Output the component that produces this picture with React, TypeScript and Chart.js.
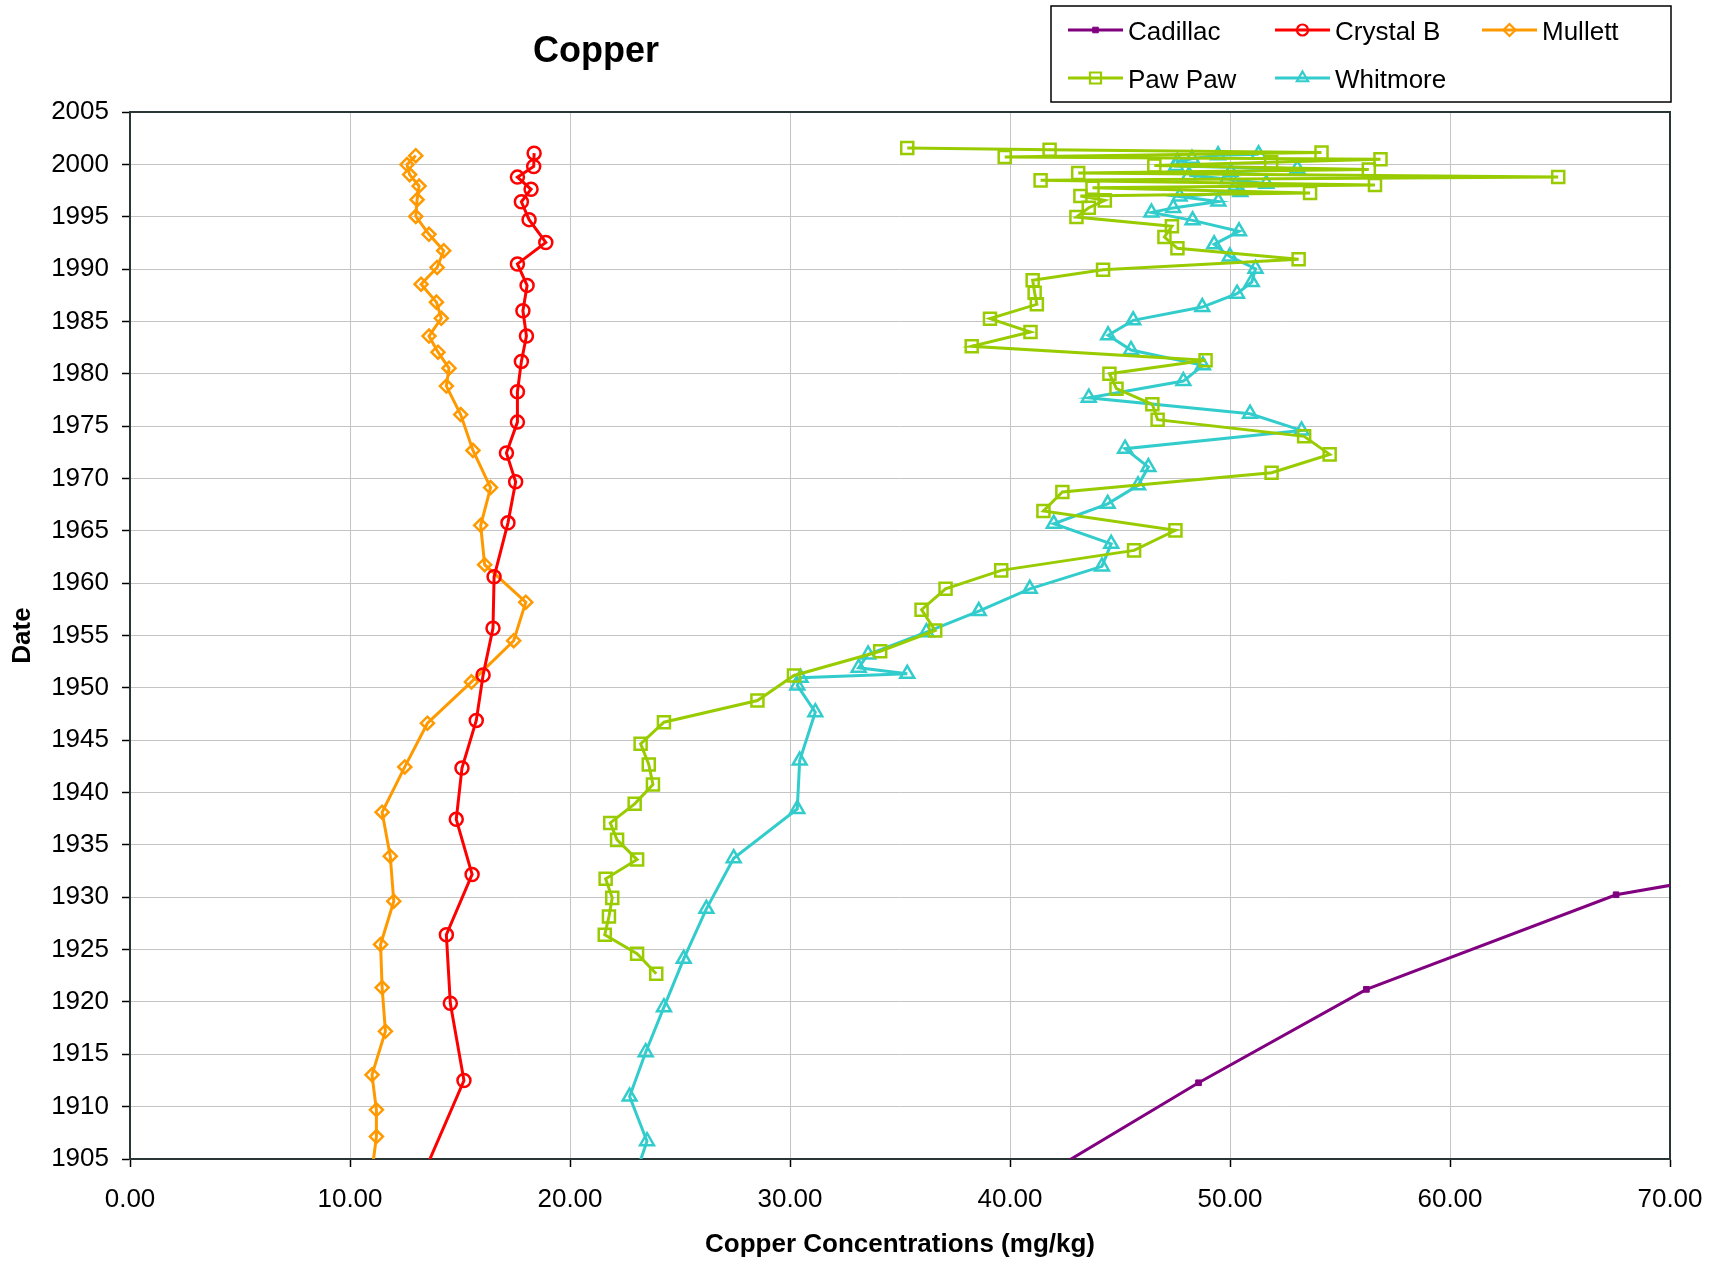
import React, { useEffect, useRef } from 'react';
import { Chart, registerables } from 'chart.js';

Chart.register(...registerables);

const FONT = "'Liberation Sans', Arial, Helvetica, sans-serif";

// ---- text ----
const chartTitle = 'Copper';
const xAxisTitle = 'Copper Concentrations (mg/kg)';
const yAxisTitle = 'Date';

// ---- axes ----
const xMin = 0;
const xMax = 70;
const xStep = 10;
const yMin = 1905;
const yMax = 2005;
const yStep = 5;

// ---- series ----
const seriesNames = ['Cadillac', 'Crystal B', 'Mullett', 'Paw Paw', 'Whitmore'];
const seriesColors = ['#800080', '#FF0000', '#FF9900', '#99CC00', '#33CCCC'];

// Cadillac (first and last points lie outside the plotted window)
const cadillacYears = [1936.6, 1930.24, 1921.2, 1912.28, 1900.0];
const cadillacCu = [85.0, 67.55, 56.2, 48.57, 38.8];

// Crystal B
const crystalYears = [
  2001.07, 1999.8, 1998.78, 1997.62, 1996.43, 1994.72, 1992.54, 1990.49, 1988.44, 1986.02,
  1983.6, 1981.18, 1978.28, 1975.38, 1972.44, 1969.68, 1965.76, 1960.61, 1955.7, 1951.22,
  1946.89, 1942.35, 1937.44, 1932.18, 1926.42, 1919.87, 1912.5, 1899.5,
];
const crystalCu = [
  18.37, 18.35, 17.61, 18.23, 17.79, 18.14, 18.9, 17.61, 18.05, 17.86,
  18.02, 17.79, 17.61, 17.61, 17.11, 17.53, 17.18, 16.55, 16.5, 16.05,
  15.74, 15.09, 14.83, 15.55, 14.38, 14.56, 15.18, 12.5,
];

// Mullett
const mullettYears = [
  2000.83, 1999.98, 1999.02, 1997.93, 1996.63, 1995.03, 1993.32, 1991.75, 1990.15, 1988.55,
  1986.84, 1985.3, 1983.6, 1982.06, 1980.53, 1978.82, 1976.1, 1972.68, 1969.13, 1965.52,
  1961.76, 1958.18, 1954.5, 1950.57, 1946.62, 1942.45, 1938.12, 1933.92, 1929.62, 1925.49,
  1921.37, 1917.2, 1913.04, 1909.7, 1907.14, 1903.0,
];
const mullettCu = [
  12.99, 12.59, 12.71, 13.14, 13.05, 12.99, 13.59, 14.26, 13.96, 13.23,
  13.93, 14.15, 13.59, 14.0, 14.5, 14.38, 15.03, 15.59, 16.39, 15.94,
  16.12, 17.99, 17.44, 15.52, 13.52, 12.49, 11.46, 11.83, 11.99, 11.39,
  11.46, 11.61, 11.0, 11.2, 11.2, 10.95,
];

// Paw Paw
const pawpawYears = [
  2001.56, 2001.4, 2001.12, 2000.7, 2000.48, 2000.2, 1999.88, 1999.5, 1999.18, 1998.79,
  1998.47, 1998.03, 1997.77, 1997.26, 1996.98, 1996.56, 1995.86, 1994.97, 1994.08, 1993.06,
  1991.98, 1990.93, 1989.94, 1988.92, 1987.74, 1986.63, 1985.26, 1983.98, 1982.62, 1981.28,
  1980.0, 1978.57, 1977.08, 1975.61, 1974.02, 1972.3, 1970.55, 1968.7, 1966.89, 1965.04,
  1963.13, 1961.22, 1959.46, 1957.46, 1955.48, 1953.5, 1951.18, 1948.79, 1946.72, 1944.65,
  1942.68, 1940.77, 1938.92, 1937.1, 1935.48, 1933.6, 1931.76, 1929.94, 1928.16, 1926.41,
  1924.6, 1922.7,
];
const pawpawCu = [
  35.33, 41.8, 54.16, 39.76, 56.84, 51.87, 46.56, 56.31, 43.1, 64.92,
  41.39, 56.59, 43.75, 53.64, 43.2, 44.31, 43.58, 43.02, 47.36, 47.02,
  47.61, 53.12, 44.23, 41.03, 41.12, 41.22, 39.09, 40.93, 38.26, 48.89,
  44.52, 44.84, 46.47, 46.71, 53.37, 54.53, 51.89, 42.38, 41.52, 47.52,
  45.64, 39.6, 37.07, 35.98, 36.6, 34.1, 30.18, 28.52, 24.27, 23.21,
  23.58, 23.77, 22.94, 21.83, 22.14, 23.05, 21.62, 21.92, 21.77, 21.58,
  23.05, 23.92,
];

// Whitmore
const whitmoreYears = [
  2000.96, 2000.86, 2000.54, 2000.25, 1999.85, 1999.59, 1999.27, 1998.95, 1998.6, 1998.15,
  1997.95, 1997.36, 1996.92, 1996.45, 1995.84, 1995.4, 1994.65, 1993.6, 1992.36, 1991.21,
  1990.03, 1988.76, 1987.65, 1986.37, 1985.1, 1983.67, 1982.27, 1980.8, 1979.3, 1977.71,
  1976.18, 1974.59, 1972.84, 1971.09, 1969.34, 1967.58, 1965.67, 1963.76, 1961.6, 1959.46,
  1957.33, 1955.32, 1953.19, 1951.92, 1951.34, 1950.96, 1950.23, 1947.68, 1943.06, 1938.44,
  1933.73, 1928.89, 1924.12, 1919.5, 1915.2, 1910.96, 1906.7, 1903.0,
];
const whitmoreCu = [
  51.3, 49.46, 48.27, 47.61, 47.55, 53.06, 50.03, 48.14, 49.88, 51.65,
  50.26, 50.47, 47.71, 49.47, 47.42, 46.43, 48.3, 50.41, 49.28, 49.99,
  51.16, 50.99, 50.32, 48.74, 45.6, 44.46, 45.5, 48.77, 47.88, 43.58,
  50.91, 53.25, 45.23, 46.29, 45.82, 44.44, 41.99, 44.6, 44.18, 40.9,
  38.58, 36.2, 33.55, 33.12, 35.33, 30.48, 30.33, 31.15, 30.44, 30.33,
  27.44, 26.2, 25.17, 24.27, 23.44, 22.71, 23.5, 22.9,
];

const seriesYears = [cadillacYears, crystalYears, mullettYears, pawpawYears, whitmoreYears];
const seriesCu = [cadillacCu, crystalCu, mullettCu, pawpawCu, whitmoreCu];

// marker styling per series
const markerStyles = ['rect', 'circle', 'rectRot', 'rect', 'triangle'];
const markerRadius = [4, 6.5, 6.5, 8.5, 8];
const markerBorder = [1, 2.5, 2.5, 2.5, 2.5];
const markerFilled = [true, false, false, false, false];

function drawMarker(ctx: CanvasRenderingContext2D, style: string, x: number, y: number, size: number, color: string, lw: number, filled: boolean) {
  ctx.save();
  ctx.strokeStyle = color;
  ctx.fillStyle = color;
  ctx.lineWidth = lw;
  ctx.beginPath();
  if (style === 'circle') {
    ctx.arc(x, y, size, 0, Math.PI * 2);
  } else if (style === 'rectRot') {
    ctx.moveTo(x, y - size);
    ctx.lineTo(x + size, y);
    ctx.lineTo(x, y + size);
    ctx.lineTo(x - size, y);
    ctx.closePath();
  } else if (style === 'triangle') {
    const h = size;
    ctx.moveTo(x, y - h);
    ctx.lineTo(x + h * 0.866, y + h * 0.5);
    ctx.lineTo(x - h * 0.866, y + h * 0.5);
    ctx.closePath();
  } else {
    ctx.rect(x - size, y - size, size * 2, size * 2);
  }
  if (filled) ctx.fill();
  ctx.stroke();
  ctx.restore();
}

const decorPlugin = {
  id: 'decor',
  beforeDatasetsDraw(chart: any) {
    const { ctx, chartArea } = chart;
    ctx.save();
    ctx.strokeStyle = '#2a3535';
    ctx.lineWidth = 2;
    ctx.strokeRect(chartArea.left, chartArea.top, chartArea.right - chartArea.left, chartArea.bottom - chartArea.top);
    ctx.restore();
  },
  afterDraw(chart: any) {
    const { ctx } = chart;
    ctx.save();
    // title
    ctx.fillStyle = '#000';
    ctx.font = `bold 36px ${FONT}`;
    ctx.textAlign = 'center';
    ctx.textBaseline = 'alphabetic';
    ctx.fillText(chartTitle, 596, 61.5);

    // legend box
    const boxL = 1051, boxT = 6, boxR = 1671, boxB = 102;
    ctx.fillStyle = '#fff';
    ctx.fillRect(boxL, boxT, boxR - boxL, boxB - boxT);
    ctx.strokeStyle = '#000';
    ctx.lineWidth = 1.5;
    ctx.strokeRect(boxL, boxT, boxR - boxL, boxB - boxT);

    const colX = [1068, 1275, 1482];
    const rowY = [30, 78];
    const legendMarkerSize = [2.8, 5.5, 6, 5.5, 6.5];
    const legendMarkerBorder = [1, 2.2, 2.2, 2.2, 2.2];
    seriesNames.forEach((name, i) => {
      const cx = colX[i % 3];
      const cy = rowY[Math.floor(i / 3)];
      ctx.strokeStyle = seriesColors[i];
      ctx.lineWidth = 3;
      ctx.beginPath();
      ctx.moveTo(cx, cy);
      ctx.lineTo(cx + 55, cy);
      ctx.stroke();
      drawMarker(ctx, markerStyles[i], cx + 27.5, cy, legendMarkerSize[i], seriesColors[i], legendMarkerBorder[i], markerFilled[i]);
      ctx.fillStyle = '#000';
      ctx.font = `26px ${FONT}`;
      ctx.textAlign = 'left';
      ctx.textBaseline = 'alphabetic';
      ctx.fillText(name, cx + 60, cy + 9.5);
    });
    ctx.restore();
  },
};

export default function App() {
  const canvasRef = useRef<HTMLCanvasElement | null>(null);

  useEffect(() => {
    const canvas = canvasRef.current;
    if (!canvas) return;

    const datasets = seriesNames.map((name, i) => ({
      label: name,
      data: seriesYears[i].map((yr, k) => ({ x: seriesCu[i][k], y: yr })),
      showLine: true,
      borderColor: seriesColors[i],
      backgroundColor: seriesColors[i],
      borderWidth: 3,
      pointStyle: markerStyles[i],
      pointRadius: markerRadius[i],
      pointHoverRadius: markerRadius[i],
      pointBorderWidth: markerBorder[i],
      pointBorderColor: seriesColors[i],
      pointBackgroundColor: markerFilled[i] ? seriesColors[i] : 'rgba(0,0,0,0)',
      clip: 0,
      tension: 0,
    }));

    const chart = new Chart(canvas, {
      type: 'scatter',
      data: { datasets },
      options: {
        animation: false,
        responsive: false,
        events: [],
        layout: { padding: { top: 112, right: 47, bottom: 0, left: 0 } },
        plugins: {
          legend: { display: false },
          title: { display: false },
          tooltip: { enabled: false },
        },
        scales: {
          x: {
            type: 'linear',
            min: xMin,
            max: xMax,
            afterFit: (s: any) => { s.height = 108; s.paddingRight = 0; s.paddingLeft = 0; },
            ticks: {
              stepSize: xStep,
              color: '#000',
              padding: 17,
              font: { family: FONT, size: 26 },
              callback: (v: any) => Number(v).toFixed(2),
            },
            grid: { color: '#c4c4c4', lineWidth: 1, tickColor: '#000', tickLength: 8, tickWidth: 1.5 },
            border: { display: true, color: '#000', width: 2 },
            title: {
              display: true,
              text: xAxisTitle,
              color: '#000',
              font: { family: FONT, size: 26, weight: 'bold' },
              padding: { top: 0, bottom: 7 },
            },
          },
          y: {
            type: 'linear',
            min: yMin,
            max: yMax,
            afterFit: (s: any) => { s.width = 130; s.paddingTop = 0; s.paddingBottom = 0; },
            ticks: {
              stepSize: yStep,
              color: '#000',
              padding: 13,
              font: { family: FONT, size: 26 },
              callback: (v: any) => String(v),
            },
            grid: { color: '#c4c4c4', lineWidth: 1, tickColor: '#000', tickLength: 8, tickWidth: 1.5 },
            border: { display: true, color: '#000', width: 2 },
            title: {
              display: true,
              text: yAxisTitle,
              color: '#000',
              font: { family: FONT, size: 26, weight: 'bold' },
              padding: { top: 7, bottom: 0 },
            },
          },
        },
      },
      plugins: [decorPlugin],
    } as any);

    return () => chart.destroy();
  }, []);

  return (
    <div style={{ position: 'absolute', left: 0, top: 0, width: 1717, height: 1267, background: '#fff' }}>
      <canvas ref={canvasRef} width={1717} height={1267} style={{ width: 1717, height: 1267, display: 'block' }} />
    </div>
  );
}
